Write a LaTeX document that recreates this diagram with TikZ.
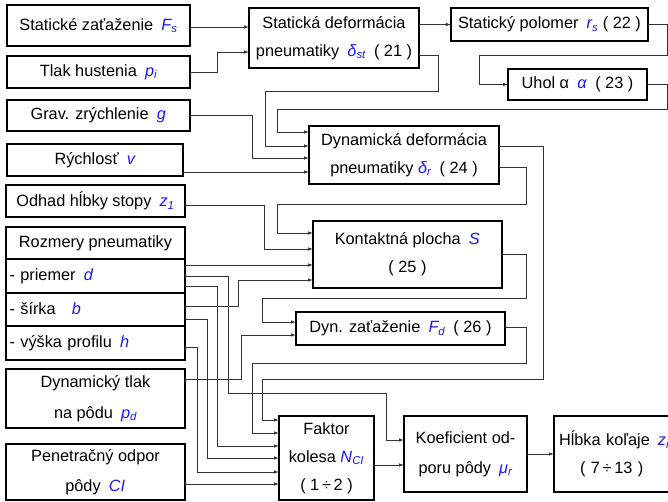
\documentclass[tikz,border=0pt]{standalone}
\usepackage{fontspec}
\setmainfont{Liberation Sans}
\usetikzlibrary{arrows.meta,calc}
\definecolor{symb}{RGB}{25,25,255}
\newcommand\sym[2]{{\color{symb}\itshape #1\textsubscript{#2}}}
\begin{document}
\begin{tikzpicture}[x=1pt,y=-1pt,
  box/.style={draw, line width=1.6pt, inner sep=1pt, outer sep=0pt, align=center, anchor=north west,
    font=\fontsize{16.3}{28}\selectfont},
  cell/.style={box, align=left, text width=172pt},
  conn/.style={draw=black!80, line width=0.8pt, -{Latex[length=5pt,width=3.5pt]}}]
\clip (0,0) rectangle (668,502);
\fill[white] (0,0) rectangle (668,502);
% left inputs
\node[box, minimum width=183pt, minimum height=41pt] (Fs) at (7,5) {Statické zaťaženie\enspace\sym{F}{s}};
\node[box, minimum width=183pt, minimum height=32pt] (pi) at (7,56) {Tlak hustenia\enspace\sym{p}{i}};
\node[box, minimum width=183pt, minimum height=31pt] (g) at (7,100) {Grav. zrýchlenie\enspace\sym{g}{}};
\node[box, minimum width=176pt, minimum height=32pt] (v) at (7,144) {Rýchlosť\enspace\sym{v}{}};
\node[box, minimum width=179pt, minimum height=32pt] (z1) at (6,185) {Odhad hĺbky stopy\enspace\sym{z}{1}};
\node[box, minimum width=179pt, minimum height=32pt] (roz) at (6,227) {Rozmery pneumatiky};
\node[cell, minimum width=179pt, minimum height=34pt] (d) at (6,259) {- priemer\enspace\sym{d}{}};
\node[cell, minimum width=179pt, minimum height=33pt] (b) at (6,293) {- šírka\quad\sym{b}{}};
\node[cell, minimum width=179pt, minimum height=34pt] (h) at (6,326) {- výška profilu\enspace\sym{h}{}};
\node[box, minimum width=179pt, minimum height=59pt, font=\fontsize{16.3}{31}\selectfont] (pd) at (6,369) {Dynamický tlak\\na pôdu\enspace\sym{p}{d}};
\node[box, minimum width=179pt, minimum height=56pt, font=\fontsize{16.3}{30}\selectfont] (CI) at (6,444) {Penetračný odpor\\pôdy\enspace\sym{CI}{}};
% computed blocks
\node[box, minimum width=170pt, minimum height=60pt] (st) at (249,8) {Statická deformácia\\pneumatiky\enspace\sym{δ}{st}\enspace( 21 )};
\node[box, minimum width=197pt, minimum height=33pt] (rs) at (451,8) {Statický polomer\enspace\sym{r}{s} ( 22 )};
\node[box, minimum width=139pt, minimum height=31pt] (al) at (508,69) {Uhol α\enspace\sym{α}{}\enspace( 23 )};
\node[box, minimum width=190pt, minimum height=58pt] (dr) at (309,126) {Dynamická deformácia\\pneumatiky \sym{δ}{r}\enspace( 24 )};
\node[box, minimum width=189pt, minimum height=67pt] (S) at (313,221) {Kontaktná plocha\enspace\sym{S}{}\\( 25 )};
\node[box, minimum width=209pt, minimum height=33pt] (Fd) at (296,312) {Dyn. zaťaženie\enspace\sym{F}{d}\enspace( 26 )};
\node[box, minimum width=95pt, minimum height=84pt] (NCI) at (279,416) {Faktor\\kolesa \sym{N}{CI}\\( 1\,÷\,2 )};
\node[box, minimum width=123pt, minimum height=76pt, font=\fontsize{16.3}{30}\selectfont] (mu) at (404,416) {Koeficient od-\\poru pôdy\enspace\sym{μ}{r}};
\node[box, align=left, text width=136pt, inner xsep=5pt, minimum width=146pt, minimum height=76pt] (zr) at (554,416) {Hĺbka koľaje\enspace\sym{z}{r}\\\hspace*{21pt}( 7\,÷\,13 )};
% connectors
\draw[conn] ([yshift=-1.5pt]Fs.east) -- ([yshift=11pt]st.west);
\draw[conn] (pi.east) -- ++(27,0) |- ([yshift=-14pt]st.west);
\draw[conn] ([yshift=13.5pt]st.east) -- (rs.west);
\draw[conn] (rs.east) -- ++(19,0) |- ([xshift=-29pt,yshift=29.5pt]al.west) |- (al.west);
\draw[conn] (al.east) -- ++(20,0) |- ([xshift=-32pt,yshift=46pt]dr.west) |- ([yshift=23pt]dr.west);
\draw[conn] ([yshift=-17pt]st.east) -- ++(19,0) |- ([xshift=-44pt,yshift=64pt]dr.west) |- ([yshift=9pt]dr.west);
\draw[conn] ([yshift=0.5pt]g.east) -- ++(62,0) |- ([yshift=-3pt]dr.west);
\draw[conn] ([yshift=-12pt]v.east) -- ([yshift=-17pt]dr.west);
\draw[conn] ([yshift=-12pt]dr.east) -- ++(27,0) |- ([xshift=-36pt,yshift=50.5pt]S.west) |- ([yshift=21.5pt]S.west);
\draw[conn] ([yshift=-4pt]z1.east) -- ++(79,0) |- ([yshift=5.5pt]S.west);
\draw[conn] ([yshift=11pt]d.east) -- ([yshift=-10.5pt]S.west);
\draw[conn] ([yshift=3.5pt]b.east) -- ++(53,0) |- ([yshift=-25.5pt]S.west);
\draw[conn] (S.east) -- ++(24,0) |- ([xshift=-34pt,yshift=30.5pt]Fd.west) |- ([yshift=6.5pt]Fd.west);
\draw[conn] ([yshift=19.5pt]pd.east) -- ++(56,0) |- ([yshift=-6.5pt]Fd.west);
\draw[conn] ([yshift=1.5pt]Fd.east) -- ++(21,0) |- ([xshift=-27pt,yshift=95pt]NCI.west) |- ([yshift=25pt]NCI.west);
\draw[conn] ([yshift=9pt]dr.east) -- ++(44,0) |- ([xshift=-17pt,yshift=79pt]NCI.west) |- ([yshift=38pt]NCI.west);
\draw[conn] (d.east) -- ++(43,0) |- ([xshift=-18pt,yshift=61pt]mu.west) |- ([yshift=14pt]mu.west);
\draw[conn] ([yshift=-10pt]d.east) -- ++(32,0) |- ([yshift=12pt]NCI.west);
\draw[conn] ([yshift=-9.5pt]b.east) -- ++(22,0) |- (NCI.west);
\draw[conn] ([yshift=-4pt]h.east) -- ++(12,0) |- ([yshift=-14pt]NCI.west);
\draw[conn] ([yshift=-12pt]CI.east) -- ([yshift=-26pt]NCI.west);
\draw[conn] ([yshift=-7pt]NCI.east) -- ([yshift=-11pt]mu.west);
\draw[conn] (mu.east) -- (zr.west);
\end{tikzpicture}
\end{document}
